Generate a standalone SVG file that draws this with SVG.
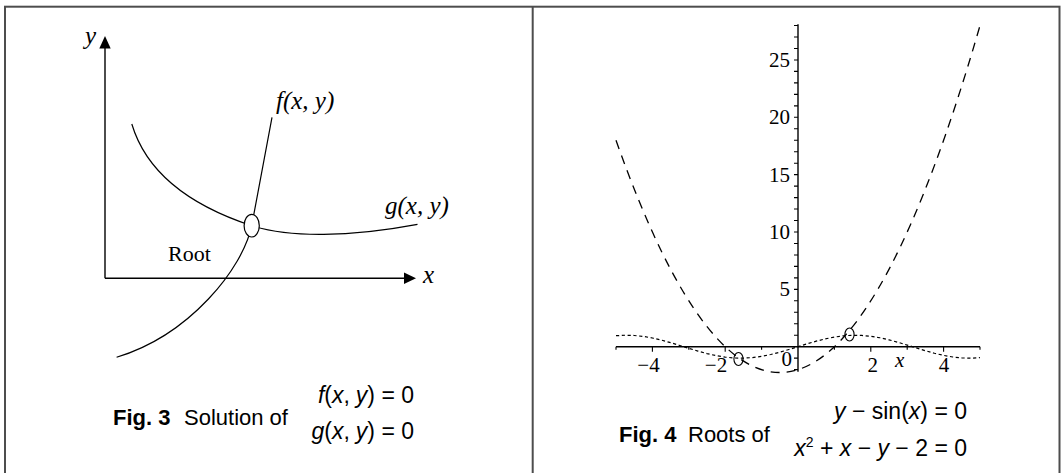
<svg xmlns="http://www.w3.org/2000/svg" width="1061" height="473" viewBox="0 0 1061 473">
<style>
.frame{fill:none;stroke:#4d4d4d;stroke-width:2}
.ax{stroke:#000;stroke-width:1.4;fill:none}
.crv{stroke:#000;stroke-width:1.2;fill:none}
.tick{stroke:#000;stroke-width:1.1;fill:none}
.par{stroke:#000;stroke-width:1.3;fill:none;stroke-dasharray:9 7}
.sin{stroke:#000;stroke-width:1.2;fill:none;stroke-dasharray:3.2 2.6}
.ser{font-family:"Liberation Serif","Times New Roman",serif;fill:#000}
.it{font-style:italic}
.sans{font-family:"Liberation Sans",Arial,sans-serif;fill:#000}
.b{font-weight:bold}
</style>
<rect x="0" y="0" width="1061" height="473" fill="#fff"/>
<g id="frame">
<rect class="frame" x="5" y="6.7" width="1054.5" height="480"/>
<line class="frame" x1="532.7" y1="6.7" x2="532.7" y2="473"/>
</g>

<!-- Left panel -->
<g id="left-axes">
<line class="ax" x1="105" y1="47" x2="105" y2="278.3"/>
<polygon points="105,36 99.3,48.5 110.7,48.5" fill="#000"/>
<line class="ax" x1="105" y1="278.3" x2="405" y2="278.3"/>
<polygon points="416,278.3 404,272.6 404,284" fill="#000"/>
<text class="ser it" x="85" y="44" font-size="25">y</text>
<text class="ser it" x="423" y="283" font-size="25">x</text>
</g>
<g id="curves">
<path id="g-curve" class="crv" d="M131.8,124 C148,178 198,208 251.7,225.7 C290,238 350,237 417.5,224.3"/>
<path id="f-curve" class="crv" d="M272,117.3 L251.7,225.7 C243,268 190,335 116.6,357.3"/>
</g>
<g id="root">
<ellipse cx="251.7" cy="225.7" rx="7.6" ry="11.3" fill="#fff" stroke="#000" stroke-width="1.2"/>
<text class="ser" x="168" y="261" font-size="22">Root</text>
</g>
<g id="label-f"><text class="ser it" x="276" y="109" font-size="25">f(x, y)</text></g>
<g id="label-g"><text class="ser it" x="385" y="214" font-size="25">g(x, y)</text></g>
<g id="caption-left">
<text class="sans" x="113" y="425" font-size="22"><tspan class="b">Fig. 3</tspan><tspan x="184">Solution of</tspan></text>
<text class="sans" x="414" y="403" font-size="23" text-anchor="end"><tspan font-style="italic">f</tspan>(<tspan font-style="italic">x</tspan>,<tspan dx="6" font-style="italic">y</tspan>) = 0</text>
<text class="sans" x="414" y="439" font-size="23" text-anchor="end"><tspan font-style="italic">g</tspan>(<tspan font-style="italic">x</tspan>,<tspan dx="6" font-style="italic">y</tspan>) = 0</text>
</g>

<!-- Right panel -->
<g id="right-axes">
<line class="ax" x1="616" y1="346.7" x2="980" y2="346.7"/>
<line class="ax" x1="798" y1="24.3" x2="798" y2="371.7"/>
<path class="tick" d="M794,369.64h4M794,358.17h4M794,335.23h4M794,323.76h4M794,312.29h4M794,300.82h4M794,289.35h4M794,277.88h4M794,266.41h4M794,254.94h4M794,243.47h4M794,232h4M794,220.53h4M794,209.06h4M794,197.59h4M794,186.12h4M794,174.65h4M794,163.18h4M794,151.71h4M794,140.24h4M794,128.77h4M794,117.3h4M794,105.83h4M794,94.36h4M794,82.89h4M794,71.42h4M794,59.95h4M794,48.48h4M794,37.01h4M794,25.54h4"/>
<path class="tick" d="M616,346.7v3M652.4,346.7v5M688.8,346.7v3M725.2,346.7v5M761.6,346.7v3M834.4,346.7v3M870.8,346.7v5M907.2,346.7v3M943.6,346.7v5M980,346.7v3"/>
<g class="ser" font-size="21" text-anchor="end">
<text x="790" y="67">25</text>
<text x="790" y="124.3">20</text>
<text x="790" y="181.7">15</text>
<text x="790" y="239">10</text>
<text x="790" y="296.3">5</text>
<text x="792" y="366">0</text>
</g>
<g class="ser" font-size="21" text-anchor="middle">
<text x="648.5" y="372">−4</text>
<text x="716" y="372">−2</text>
<text x="872.7" y="372">2</text>
<text x="944" y="372">4</text>
</g>
<text class="ser it" x="895" y="367" font-size="21">x</text>
</g>
<g id="plots">
<path id="parabola" class="par" d="M616,140.24 Q798,656.4 980,25.54"/>
<polyline id="sine" class="sin" points="616,335.70 625.1,335.24 634.2,335.49 643.3,336.43 652.4,338.02 661.5,340.14 670.6,342.68 679.7,345.46 688.8,348.32 697.9,351.08 707,353.56 716.1,355.62 725.2,357.13 734.3,357.99 743.4,358.14 752.5,357.59 761.6,356.35 770.7,354.52 779.8,352.20 788.9,349.54 798,346.7 807.1,343.86 816.2,341.20 825.3,338.88 834.4,337.05 843.5,335.81 852.6,335.26 861.7,335.41 870.8,336.27 879.9,337.78 889,339.84 898.1,342.32 907.2,345.08 916.3,347.94 925.4,350.72 934.5,353.26 943.6,355.38 952.7,356.97 961.8,357.91 970.9,358.16 980,357.70"/>
</g>
<g id="root-markers">
<ellipse cx="738.5" cy="359" rx="4.6" ry="6.5" fill="none" stroke="#000" stroke-width="1.1"/>
<ellipse cx="849.5" cy="334.5" rx="4.6" ry="6.5" fill="none" stroke="#000" stroke-width="1.1"/>
</g>
<g id="caption-right">
<text class="sans" x="619" y="442" font-size="22"><tspan class="b">Fig. 4</tspan><tspan x="688">Roots of</tspan></text>
<text class="sans" x="967" y="419" font-size="23" text-anchor="end"><tspan font-style="italic">y</tspan> − sin(<tspan font-style="italic">x</tspan>) = 0</text>
<text class="sans" x="967" y="455.7" font-size="23" text-anchor="end"><tspan font-style="italic">x</tspan><tspan font-size="14" dy="-9">2</tspan><tspan dy="9"> + </tspan><tspan font-style="italic">x</tspan> − <tspan font-style="italic">y</tspan> − 2 = 0</text>
</g>
</svg>
